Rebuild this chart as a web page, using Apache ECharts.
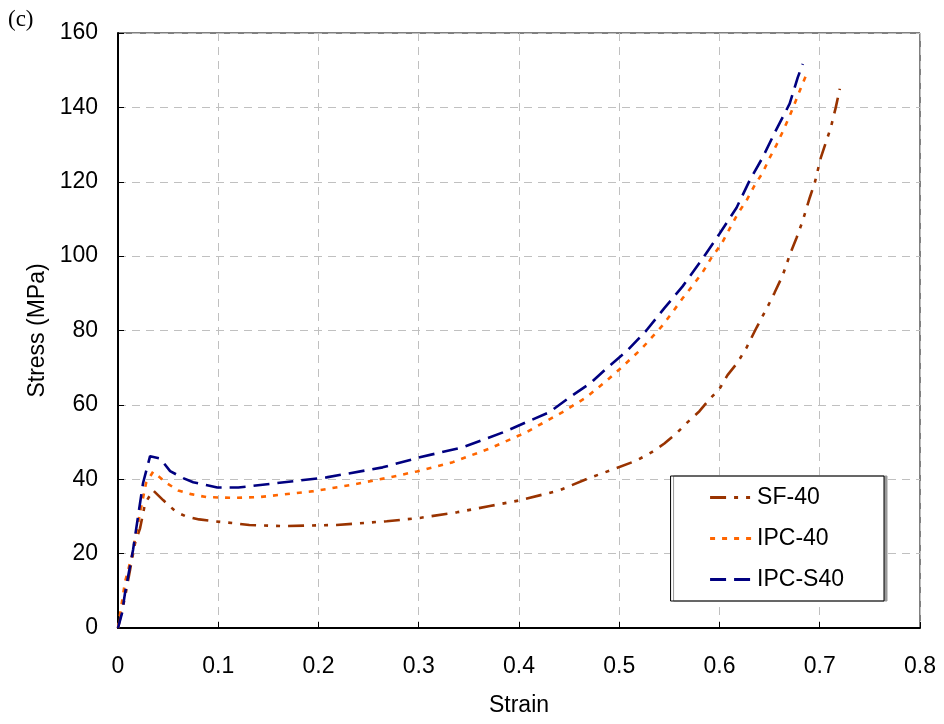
<!DOCTYPE html>
<html>
<head>
<meta charset="utf-8">
<script src="https://cdn.jsdelivr.net/npm/echarts@6/dist/echarts.min.js"></script>
<style>
html,body{margin:0;padding:0;background:#fff;}
#chart{width:944px;height:724px;}
</style>
</head>
<body>
<div id="chart"></div>
<script>
// Data: [strain, stress (MPa)]
var seriesNames = ['SF-40', 'IPC-40', 'IPC-S40'];
var sf40 = [[0,0],[0.007,8.3],[0.012,15.6],[0.017,22.8],[0.022,26.8],[0.027,33.5],[0.035,37],[0.045,34.4],[0.058,31.2],[0.068,30],[0.081,29.2],[0.096,28.7],[0.115,28.2],[0.131,27.7],[0.165,27.4],[0.218,27.7],[0.268,28.7],[0.301,29.6],[0.338,31.1],[0.371,32.8],[0.402,34.4],[0.44,37],[0.467,40],[0.497,43],[0.517,45],[0.532,47.2],[0.545,49.6],[0.558,52.6],[0.568,55.3],[0.58,58.3],[0.59,61.5],[0.6,64.3],[0.608,68],[0.618,71.4],[0.627,75.4],[0.637,80.8],[0.648,86.4],[0.655,90.2],[0.663,94.8],[0.671,101],[0.677,105],[0.683,109.5],[0.69,115.7],[0.695,119.7],[0.701,126.4],[0.706,130.5],[0.711,134.5],[0.716,140],[0.72,145]];
var ipc40 = [[0,0],[0.007,12.4],[0.014,19.6],[0.022,31],[0.028,39],[0.035,42],[0.049,38.9],[0.06,37],[0.073,36],[0.088,35.2],[0.115,35],[0.141,35.2],[0.195,36.8],[0.231,38.4],[0.271,40.5],[0.298,42.1],[0.334,44.6],[0.371,48.3],[0.407,52.6],[0.443,58],[0.467,62],[0.487,66.4],[0.5,69.5],[0.512,72.5],[0.522,75],[0.532,78],[0.543,81.3],[0.552,84.5],[0.563,88.6],[0.573,92],[0.583,95.6],[0.592,99.6],[0.602,103.3],[0.61,107.3],[0.618,111.3],[0.627,115],[0.635,119],[0.643,122.4],[0.65,126.4],[0.657,130],[0.664,134],[0.67,137.7],[0.676,141.7],[0.682,145.8],[0.687,149]];
var ipcS40 = [[0,0],[0.004,4],[0.007,9.4],[0.015,21],[0.025,39],[0.032,46.2],[0.042,45.6],[0.052,42.2],[0.065,40.3],[0.075,39.2],[0.089,38.4],[0.099,37.8],[0.12,37.8],[0.131,38.1],[0.208,40.5],[0.264,43.2],[0.301,45.9],[0.344,48.6],[0.384,52.6],[0.407,55.3],[0.43,58],[0.453,62.5],[0.472,66],[0.486,69.5],[0.508,74.6],[0.527,80],[0.545,86],[0.563,91.8],[0.583,99.3],[0.6,106],[0.617,113],[0.63,120.3],[0.643,126.5],[0.656,133.7],[0.67,141],[0.678,148],[0.683,151.7]];
var xTicks = [0, 0.1, 0.2, 0.3, 0.4, 0.5, 0.6, 0.7, 0.8];
var yTicks = [0, 20, 40, 60, 80, 100, 120, 140, 160];

var FONT = '"Liberation Sans", Arial, sans-serif';
var FS = 23;
var chart = echarts.init(document.getElementById('chart'), null, {renderer: 'canvas'});

function mkSeries(name, data, color, dash) {
  return {
    name: name,
    type: 'line',
    data: data,
    symbol: 'none',
    showSymbol: false,
    smooth: false,
    lineStyle: {color: color, width: 2.6, type: dash},
    itemStyle: {color: color},
    z: 5
  };
}

var option = {
  animation: false,
  backgroundColor: '#ffffff',
  grid: {left: 118, right: 24, top: 33, bottom: 96, show: true, borderColor: '#000', borderWidth: 1, backgroundColor: 'transparent'},
  graphic: [{
    type: 'text', left: 8, top: 8,
    style: {text: '(c)', font: '23px "Liberation Serif", "Times New Roman", serif', fill: '#000'}
  }],
  legend: {
    right: 60, top: 476,
    orient: 'vertical',
    align: 'left',
    data: seriesNames,
    itemWidth: 42, itemHeight: 18, itemGap: 18,
    padding: [10, 40, 10, 38],
    backgroundColor: '#fff',
    borderColor: '#000', borderWidth: 1,
    shadowColor: '#9a9a9a', shadowBlur: 0, shadowOffsetX: 3, shadowOffsetY: 0,
    itemStyle: {opacity: 0, borderWidth: 0},
    lineStyle: {width: 3},
    textStyle: {fontFamily: FONT, fontSize: FS, color: '#000'}
  },
  xAxis: {
    type: 'value', min: xTicks[0], max: xTicks[xTicks.length - 1], interval: 0.1,
    name: 'Strain', nameLocation: 'middle', nameGap: 66,
    nameTextStyle: {fontFamily: FONT, fontSize: FS, color: '#000'},
    axisLine: {show: true, onZero: false, lineStyle: {color: '#000', width: 2}},
    axisTick: {show: true, inside: true, length: 6, lineStyle: {color: '#000', width: 1}},
    axisLabel: {fontFamily: FONT, fontSize: FS, color: '#000', margin: 27,
      formatter: function (v) { return String(Math.round(v * 10) / 10); }},
    splitLine: {show: true, lineStyle: {color: '#c0c0c0', width: 1, type: [8, 6]}}
  },
  yAxis: {
    type: 'value', min: yTicks[0], max: yTicks[yTicks.length - 1], interval: 20,
    name: 'Stress (MPa)', nameLocation: 'middle', nameGap: 64, nameRotate: 90,
    nameTextStyle: {fontFamily: FONT, fontSize: FS, color: '#000'},
    axisLine: {show: true, onZero: false, lineStyle: {color: '#000', width: 2}},
    axisTick: {show: true, inside: true, length: 6, lineStyle: {color: '#000', width: 1}},
    axisLabel: {fontFamily: FONT, fontSize: FS, color: '#000', margin: 20},
    splitLine: {show: true, lineStyle: {color: '#c0c0c0', width: 1, type: [8, 6]}}
  },
  series: [
    mkSeries(seriesNames[0], sf40, '#993300', [16, 8, 4, 8, 4, 8]),
    mkSeries(seriesNames[1], ipc40, '#FF6600', [5, 7]),
    mkSeries(seriesNames[2], ipcS40, '#000080', [16, 8])
  ]
};
chart.setOption(option);
</script>
</body>
</html>
